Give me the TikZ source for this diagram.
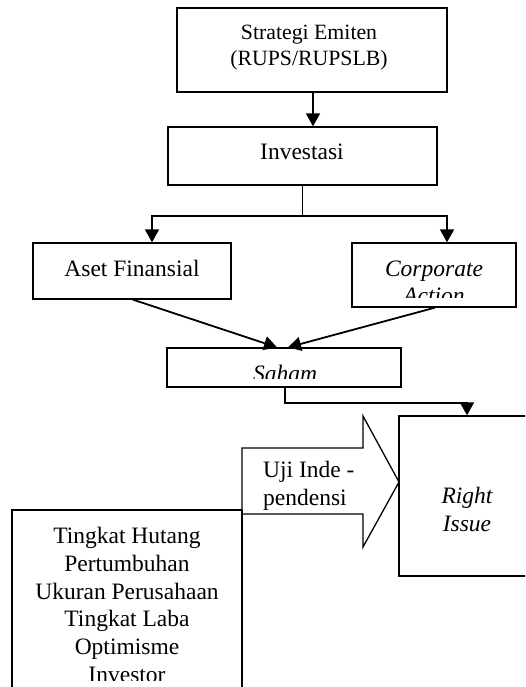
\documentclass[tikz,border=0pt]{standalone}
\usepackage{fontspec}
\setmainfont{Liberation Serif}
\usetikzlibrary{arrows.meta,calc}
\begin{document}
\begin{tikzpicture}[x=1pt,y=-1pt,
  box/.style={draw,line width=1.3pt,inner sep=0pt},
  txt/.style={inner sep=0pt,font=\fontsize{23.5}{27.8}\selectfont},
  smalltxt/.style={inner sep=0pt,font=\fontsize{21.8}{26}\selectfont},
  conn/.style={line width=1.8pt},
  arr/.style={line width=1.8pt,-{Triangle[length=13pt,width=14pt]}}
]
\fill[white] (0,0) rectangle (525,687);
\clip (0,0) rectangle (525,687);

% top box
\node[box,minimum width=270pt,minimum height=84pt] (topbox) at (312,50) {};
\node[smalltxt,anchor=north,align=center] (toptext) at (309,25) {Strategi Emiten\\(RUPS/RUPSLB)};

% Investasi
\node[box,minimum width=269pt,minimum height=58pt] (invbox) at (302.5,156) {};
\node[txt,anchor=base] (invtext) at (302,160) {Investasi};

% Aset Finansial
\node[box,minimum width=198pt,minimum height=56pt] (asetbox) at (132,271) {};
\node[txt,anchor=base] (asettext) at (132,276) {Aset Finansial};

% Corporate Action
\node[box,minimum width=164pt,minimum height=64pt] (corpbox) at (434,275) {};
\begin{scope}
  \clip (352,243) rectangle (516,297);
  \node[txt,anchor=base] (corptext) at (434,276) {\itshape Corporate};
  \node[txt,anchor=base] (acttext) at (434,303.5) {\itshape Action};
\end{scope}

% Saham
\node[box,minimum width=234pt,minimum height=39pt] (sahambox) at (284,367.5) {};
\begin{scope}
  \clip (167,348) rectangle (401,378);
  \node[txt,anchor=base] (sahamtext) at (285,381.5) {\itshape Saham};
\end{scope}

% Right Issue
\node[box,minimum width=136pt,minimum height=160pt] (ribox) at (467,496) {};
\node[txt,anchor=north,align=center] (ritext) at (467,487) {\itshape Right\\\itshape Issue};

% Uji independensi arrow shape
\draw[line width=1.3pt,line join=miter] (242,448) -- (363,448) -- (363,416) -- (399,482) -- (363,547) -- (363,514) -- (242,514) -- cycle;
\node[txt,anchor=north west,align=left] (ujitext) at (263,461) {Uji Inde -\\pendensi};

% bottom box
\node[box,minimum width=230pt,minimum height=220pt] (botbox) at (127,620) {};
\begin{scope}
  \clip (12,510) rectangle (242,680);
  \node[txt,anchor=north,align=center] (bottext) at (127,527) {Tingkat Hutang\\Pertumbuhan\\Ukuran Perusahaan\\Tingkat Laba\\Optimisme\\Investor};
\end{scope}

% connectors
\coordinate (j) at (302.5,216);
\draw[arr] ([xshift=1pt]topbox.south) -- ([xshift=1pt]topbox.south |- invbox.north);
\draw[conn] (invbox.south) -- (j);
\draw[arr] (j) -| ([xshift=20pt]asetbox.north);
\draw[arr] (j) -| ([xshift=13pt]corpbox.north);
\draw[arr] ([xshift=1pt]asetbox.south) -- ([xshift=-7pt]sahambox.north);
\draw[arr] ([xshift=1pt]corpbox.south) -- ([xshift=4pt]sahambox.north);
\draw[arr] ([xshift=1pt]sahambox.south) -- ++(0,15) -| (ribox.north);
\end{tikzpicture}
\end{document}
